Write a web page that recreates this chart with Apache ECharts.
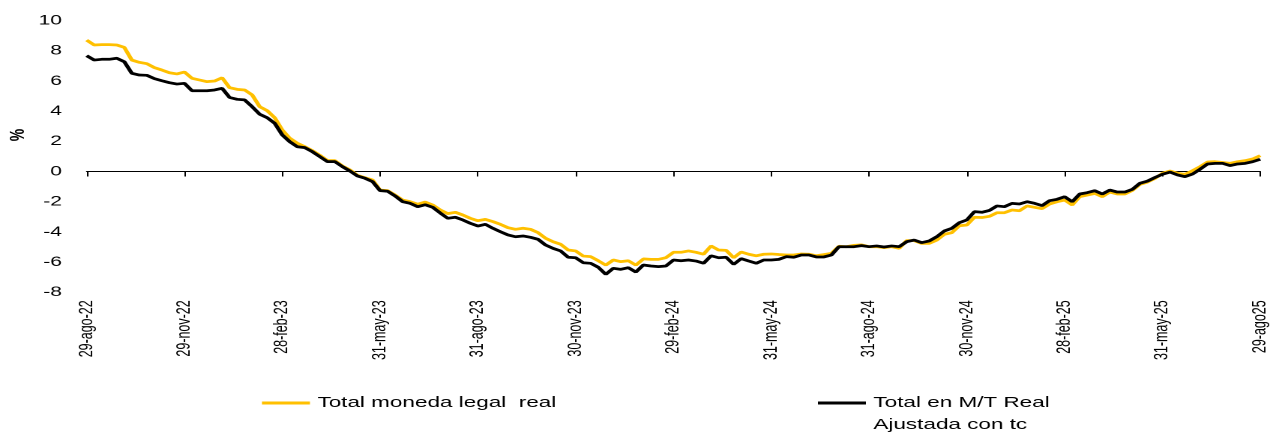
<!DOCTYPE html>
<html>
<head>
<meta charset="utf-8">
<script src="https://cdn.jsdelivr.net/npm/echarts@6.0.0/dist/echarts.min.js"></script>
<style>
  html, body { margin: 0; padding: 0; background: #fff; overflow: hidden; }
  #wrap { width: 1270px; height: 433px; overflow: hidden; }
  /* the chart is laid out narrow and widened horizontally */
  #chart { width: 847px; height: 433px; transform: scaleX(1.4994); transform-origin: 0 0; }
</style>
</head>
<body>
<div id="wrap"><div id="chart"></div></div>
<script>
// Quarterly tick labels, one every 13 weekly observations
const tickLabels = ['29-ago-22', '29-nov-22', '28-feb-23', '31-may-23', '31-ago-23', '30-nov-23',
  '29-feb-24', '31-may-24', '31-ago-24', '30-nov-24', '28-feb-25', '31-may-25', '29-ago25'];
const tickStep = 13;

const nameLegal = 'Total moneda legal  real';
const nameMT = 'Total en M/T Real\nAjustada con tc';

// Weekly real growth, %
const legalReal = [
  8.70, 8.38, 8.40, 8.40, 8.38, 8.22, 7.38, 7.23, 7.14, 6.88,
  6.72, 6.54, 6.46, 6.59, 6.17, 6.06, 5.95, 5.99, 6.21, 5.55,
  5.44, 5.40, 5.07, 4.29, 4.03, 3.56, 2.75, 2.20, 1.87, 1.64,
  1.38, 1.07, 0.72, 0.72, 0.36, 0.10, -0.26, -0.41, -0.56, -1.23,
  -1.27, -1.56, -1.89, -2.00, -2.17, -2.02, -2.22, -2.55, -2.79, -2.70,
  -2.88, -3.10, -3.26, -3.17, -3.32, -3.50, -3.72, -3.83, -3.76, -3.83,
  -4.05, -4.42, -4.65, -4.82, -5.20, -5.26, -5.60, -5.64, -5.91, -6.20,
  -5.86, -5.97, -5.91, -6.20, -5.79, -5.82, -5.82, -5.71, -5.35, -5.35,
  -5.26, -5.35, -5.48, -4.93, -5.20, -5.22, -5.71, -5.33, -5.48, -5.58,
  -5.48, -5.46, -5.50, -5.53, -5.53, -5.46, -5.48, -5.58, -5.50, -5.42,
  -4.95, -4.98, -4.89, -4.86, -4.98, -4.98, -5.04, -4.98, -5.09, -4.58,
  -4.58, -4.76, -4.76, -4.54, -4.16, -4.05, -3.59, -3.54, -3.03, -3.05,
  -2.97, -2.73, -2.73, -2.55, -2.60, -2.28, -2.37, -2.46, -2.15, -2.00,
  -1.89, -2.22, -1.67, -1.56, -1.45, -1.67, -1.36, -1.49, -1.49, -1.25,
  -0.85, -0.70, -0.46, -0.12, 0.03, -0.12, -0.19, 0.05, 0.32, 0.63,
  0.65, 0.60, 0.54, 0.65, 0.72, 0.83, 1.05
];

const mtAjustada = [
  7.67, 7.38, 7.43, 7.43, 7.50, 7.27, 6.50, 6.39, 6.37, 6.15,
  6.01, 5.88, 5.79, 5.84, 5.35, 5.35, 5.35, 5.40, 5.51, 4.90,
  4.78, 4.74, 4.29, 3.79, 3.56, 3.19, 2.42, 1.97, 1.64, 1.58,
  1.31, 0.98, 0.65, 0.65, 0.32, 0.03, -0.30, -0.45, -0.67, -1.27,
  -1.31, -1.62, -2.00, -2.11, -2.33, -2.20, -2.37, -2.75, -3.10, -3.03,
  -3.21, -3.43, -3.61, -3.50, -3.76, -3.99, -4.20, -4.32, -4.27, -4.36,
  -4.49, -4.87, -5.09, -5.26, -5.68, -5.71, -6.04, -6.08, -6.34, -6.81,
  -6.41, -6.48, -6.37, -6.66, -6.19, -6.26, -6.30, -6.26, -5.86, -5.91,
  -5.86, -5.93, -6.08, -5.58, -5.71, -5.68, -6.15, -5.77, -5.93, -6.08,
  -5.86, -5.86, -5.82, -5.64, -5.68, -5.53, -5.53, -5.66, -5.66, -5.53,
  -4.98, -4.98, -4.98, -4.91, -4.98, -4.93, -5.00, -4.93, -4.98, -4.65,
  -4.54, -4.71, -4.60, -4.32, -3.94, -3.76, -3.39, -3.21, -2.66, -2.70,
  -2.58, -2.28, -2.33, -2.11, -2.15, -2.00, -2.11, -2.26, -1.93, -1.84,
  -1.67, -2.00, -1.49, -1.40, -1.27, -1.49, -1.23, -1.36, -1.36, -1.18,
  -0.78, -0.64, -0.40, -0.18, -0.04, -0.23, -0.34, -0.17, 0.15, 0.50,
  0.54, 0.54, 0.39, 0.50, 0.54, 0.65, 0.81
];

const FONT = 'Liberation Sans';
const lastIdx = legalReal.length - 1;
const mtLines = nameMT.split('\n');

const chart = echarts.init(document.getElementById('chart'), null, { devicePixelRatio: 2 });

const xCommon = { type: 'value', min: 0, max: lastIdx, interval: tickStep, splitLine: { show: false } };
const legendText = { color: '#000', fontFamily: FONT, fontSize: 15, lineHeight: 22 };

chart.setOption({
  animation: false,
  backgroundColor: '#ffffff',
  grid: { left: 57.8, right: 3.6, top: 20.5, bottom: 140.7, containLabel: false },
  xAxis: [
    Object.assign({}, xCommon, {
      // zero line with downward ticks
      position: 'bottom',
      axisLine: { show: true, onZero: true, lineStyle: { color: '#000', width: 1 } },
      axisTick: { show: true, length: 5, lineStyle: { color: '#000', width: 1 } },
      axisLabel: { show: false }
    }),
    Object.assign({}, xCommon, {
      // date labels along the bottom edge
      position: 'bottom',
      axisLine: { show: false, onZero: false },
      axisTick: { show: false },
      axisLabel: {
        show: true, rotate: 90, margin: 8, color: '#000',
        fontFamily: FONT, fontSize: 12.5,
        showMinLabel: true, showMaxLabel: true,
        formatter: v => tickLabels[Math.round(v / tickStep)] || ''
      }
    })
  ],
  yAxis: {
    type: 'value', min: -8, max: 10, interval: 2,
    axisLine: { show: false }, axisTick: { show: false }, splitLine: { show: false },
    axisLabel: { color: '#000', fontFamily: FONT, fontSize: 14, margin: 16.5 }
  },
  legend: [
    {
      data: [nameLegal], left: 174.7, top: 392, padding: 0,
      icon: 'rect', itemWidth: 32, itemHeight: 3,
      textStyle: legendText
    },
    {
      // first line of the name beside the key; the second line sits below it
      data: [nameMT], left: 545.5, top: 392, padding: 0,
      icon: 'rect', itemWidth: 32, itemHeight: 3,
      formatter: () => mtLines[0],
      textStyle: legendText
    }
  ],
  graphic: [
    {
      type: 'text', x: 12, y: 135, rotation: Math.PI / 2,
      style: { text: '%', fill: '#000', font: 'bold 14px "Liberation Sans"', align: 'center', verticalAlign: 'middle' }
    },
    {
      type: 'text', x: 582.5, y: 425,
      style: { text: mtLines[1], fill: '#000', font: '15px "Liberation Sans"', align: 'left', verticalAlign: 'middle' }
    }
  ],
  series: [
    {
      name: nameLegal, type: 'line', xAxisIndex: 0,
      data: legalReal.map((v, i) => [i, v]),
      showSymbol: false, symbol: 'none',
      lineStyle: { color: '#FFC000', width: 2.75 },
      itemStyle: { color: '#FFC000' }
    },
    {
      name: nameMT, type: 'line', xAxisIndex: 0,
      data: mtAjustada.map((v, i) => [i, v]),
      showSymbol: false, symbol: 'none',
      lineStyle: { color: '#000000', width: 2.75 },
      itemStyle: { color: '#000000' }
    }
  ]
});
</script>
</body>
</html>
